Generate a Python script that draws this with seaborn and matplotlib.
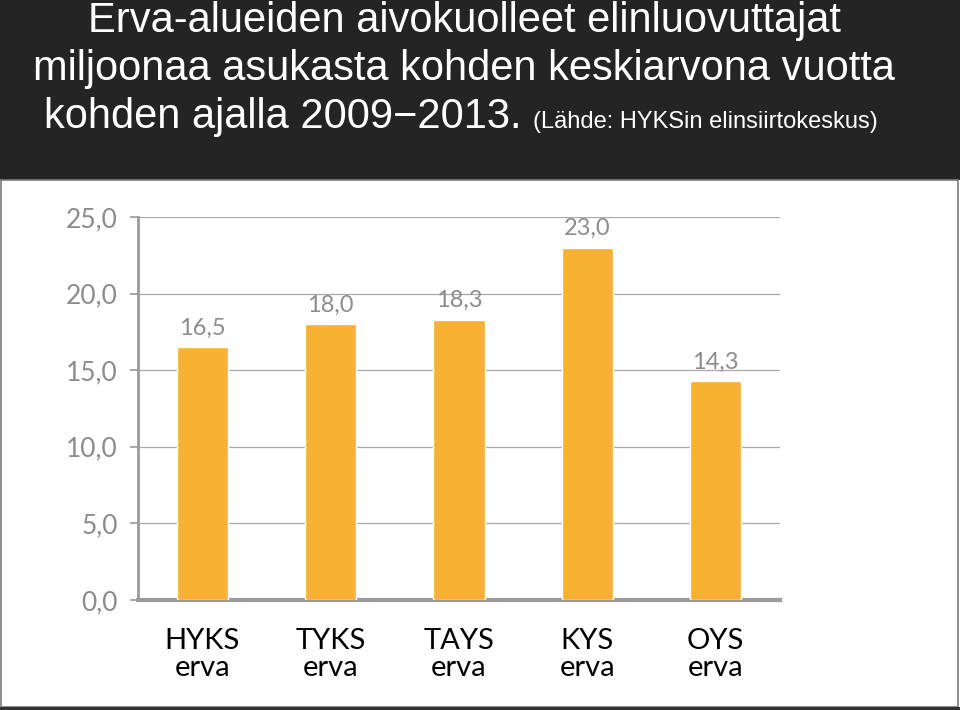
import matplotlib
matplotlib.use("Agg")
import matplotlib.pyplot as plt
from matplotlib.patches import Rectangle
from matplotlib.ticker import FixedLocator, FuncFormatter
import pandas as pd
import seaborn as sns

# data
regions = ["HYKS", "TYKS", "TAYS", "KYS", "OYS"]
region_suffix = ["erva", "erva", "erva", "erva", "erva"]
donors_per_million = [16.5, 18.0, 18.3, 23.0, 14.3]
y_ticks = [0, 5, 10, 15, 20, 25]

title_lines = [
    "Erva-alueiden aivokuolleet elinluovuttajat",
    "miljoonaa asukasta kohden keskiarvona vuotta",
]
title_last = "kohden ajalla 2009\u22122013."
source_note = "(Lähde: HYKSin elinsiirtokeskus)"

BAR = "#F8B133"
GRAY_TXT = "#8c8c8c"
AXIS = "#9a9a9a"
GRID = "#a8a8a8"
HEADER = "#242424"

W, H = 960, 710


def fx(px):
    return px / W


def fy(py):
    return 1 - py / H


def comma(v, _=None):
    return f"{v:.1f}".replace(".", ",")


def main():
    sns.set_style("white")
    plt.rcParams["font.family"] = ["Lato", "DejaVu Sans"]

    df = pd.DataFrame({"region": regions, "value": donors_per_million})

    fig = plt.figure(figsize=(W / 100, H / 100), dpi=100, facecolor="white")

    # dark header band and framed white panel
    fig.patches.append(Rectangle((0, fy(180)), 1, 180 / H, transform=fig.transFigure,
                                 facecolor=HEADER, edgecolor="none", zorder=0))
    fig.patches.append(Rectangle((fx(1), fy(707)), fx(957), (707 - 180) / H, transform=fig.transFigure,
                                 facecolor="white", edgecolor="#7a7a7a", linewidth=1.2, zorder=0))
    fig.patches.append(Rectangle((0, 0), 1, 3 / H, transform=fig.transFigure,
                                 facecolor="#333333", edgecolor="none", zorder=0))

    ax = fig.add_axes([fx(138), fy(600), fx(780 - 138), (600 - 217) / H])
    ax.set_zorder(5)
    ax.set_facecolor("none")

    sns.barplot(data=df, x="region", y="value", color=BAR, width=0.4,
                saturation=1, ax=ax, zorder=3)

    ax.set_xlim(-0.5, len(regions) - 0.5)
    ax.set_ylim(0, 25)
    ax.set_xlabel("")
    ax.set_ylabel("")

    ax.yaxis.set_major_locator(FixedLocator(y_ticks))
    ax.yaxis.set_major_formatter(FuncFormatter(comma))
    ax.grid(axis="y", color=GRID, linewidth=0.9, zorder=0)
    ax.grid(axis="x", visible=False)

    ax.set_xticks(range(len(regions)))
    ax.set_xticklabels([f"{r}\n{s}" for r, s in zip(regions, region_suffix)],
                       fontsize=21, color="black", linespacing=1.05)
    ax.set_xticks([i - 0.5 for i in range(len(regions) + 1)], minor=True)
    ax.tick_params(axis="x", which="major", length=0, pad=20)
    ax.tick_params(axis="x", which="minor", length=7, width=1.2, color=AXIS, direction="out")
    ax.tick_params(axis="y", length=6, width=1.2, color=AXIS, labelsize=19,
                   labelcolor=GRAY_TXT, pad=8.5, left=True)

    for side in ["top", "right"]:
        ax.spines[side].set_visible(False)
    ax.spines["left"].set_color(AXIS)
    ax.spines["left"].set_linewidth(2)
    ax.spines["bottom"].set_color(AXIS)
    ax.spines["bottom"].set_linewidth(3)

    ax.bar_label(ax.containers[0], labels=[comma(v) for v in donors_per_million],
                 padding=6, fontsize=17, color=GRAY_TXT)

    # title block
    tfont = ["Liberation Sans", "DejaVu Sans"]
    cx = fx(464)
    fig.text(cx, fy(32), title_lines[0], ha="center", va="baseline",
             color="white", fontsize=30, family=tfont)
    fig.text(cx, fy(80), title_lines[1], ha="center", va="baseline",
             color="white", fontsize=30, family=tfont)
    fig.text(fx(522), fy(128), title_last, ha="right", va="baseline",
             color="white", fontsize=30, family=tfont)
    fig.text(fx(533), fy(128), source_note, ha="left", va="baseline",
             color="white", fontsize=17, family=tfont)

    fig.savefig("out.png", dpi=100, facecolor=fig.get_facecolor())


if __name__ == "__main__":
    main()
